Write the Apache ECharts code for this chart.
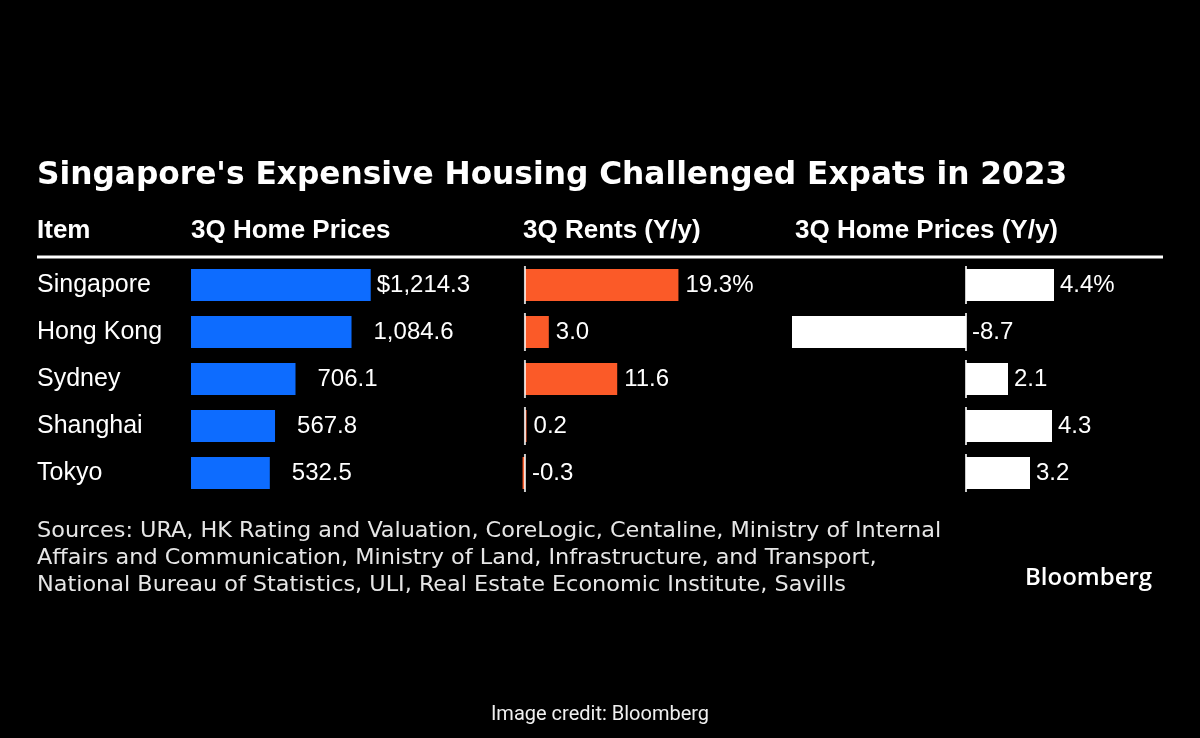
<!DOCTYPE html>
<html>
<head>
<meta charset="utf-8">
<script src="https://cdn.jsdelivr.net/npm/echarts@6/dist/echarts.min.js"></script>
<style>
  html, body { margin: 0; padding: 0; background: #000; }
  #chart { width: 1200px; height: 738px; }
</style>
</head>
<body>
<div id="chart"></div>
<script>
// ---- data ----
const cities = ['Singapore', 'Hong Kong', 'Sydney', 'Shanghai', 'Tokyo'];
const homePrices = [1214.3, 1084.6, 706.1, 567.8, 532.5];      // 3Q Home Prices
const rentsYoY = [19.3, 3.0, 11.6, 0.2, -0.3];                  // 3Q Rents (Y/y)
const homePricesYoY = [4.4, -8.7, 2.1, 4.3, 3.2];               // 3Q Home Prices (Y/y)
const columnHeaders = ['Item', '3Q Home Prices', '3Q Rents (Y/y)', '3Q Home Prices (Y/y)'];
const titleText = "Singapore's Expensive Housing Challenged Expats in 2023";
const sourceText = 'Sources: URA, HK Rating and Valuation, CoreLogic, Centaline, Ministry of Internal\nAffairs and Communication, Ministry of Land, Infrastructure, and Transport,\nNational Bureau of Statistics, ULI, Real Estate Economic Institute, Savills';

// ---- styling ----
const NUM_FONT = '"Liberation Sans", Arial, Helvetica, sans-serif';
const BLUE = '#0d6cff';
const ORANGE = '#fb5a28';
const WHITE = '#ffffff';
const TOP = 261.5, ROWH = 47, H = ROWH * cities.length;

function fmtThousands(v) {
  return v.toLocaleString('en-US', { minimumFractionDigits: 1, maximumFractionDigits: 1 });
}

function makeData(values, fmt, firstPrefix, firstSuffix, dist, prefixDist) {
  return values.map((v, i) => ({
    value: v,
    label: {
      formatter: (i === 0 ? firstPrefix : '') + fmt(v) + (i === 0 ? firstSuffix : ''),
      distance: (i === 0 && firstPrefix) ? prefixDist : dist
    }
  }));
}

const labelBase = {
  show: true, position: 'right', color: WHITE,
  fontFamily: NUM_FONT, fontSize: 24
};

const grids = [
  { left: 191, top: TOP, width: 185, height: H },
  { left: 517, top: TOP, width: 167, height: H },
  { left: 786, top: TOP, width: 280, height: H }
];
const xRanges = [[0, 1250], [-1, 20], [-9, 5]];

const xAxes = grids.map((g, i) => ({
  type: 'value', gridIndex: i, min: xRanges[i][0], max: xRanges[i][1],
  show: false, splitLine: { show: false }
}));
const yAxes = grids.map((g, i) => ({
  type: 'category', gridIndex: i, data: cities, inverse: true,
  axisLine: { show: false }, axisTick: { show: false },
  axisLabel: i === 0 ? {
    show: true, color: WHITE, fontFamily: NUM_FONT, fontSize: 25,
    align: 'left', margin: 154, padding: [0, 0, 14, 0]
  } : { show: false },
  splitLine: { show: false }
}));

const zeroLine = (gi) => ({
  type: 'scatter', xAxisIndex: gi, yAxisIndex: gi,
  symbol: 'rect', symbolSize: [2, 38], silent: true, z: 5,
  itemStyle: { color: WHITE },
  data: cities.map(c => [0, c])
});

const option = {
  backgroundColor: '#000',
  animation: false,
  title: {
    text: titleText, left: 37, top: 160, padding: 0,
    textStyle: { color: WHITE, fontFamily: '"DejaVu Sans", sans-serif', fontWeight: 'bold', fontSize: 31.25 }
  },
  grid: grids,
  xAxis: xAxes,
  yAxis: yAxes,
  series: [
    {
      type: 'bar', xAxisIndex: 0, yAxisIndex: 0, barWidth: 32,
      itemStyle: { color: BLUE }, label: labelBase,
      data: makeData(homePrices, fmtThousands, '$', '', 22, 6)
    },
    {
      type: 'bar', xAxisIndex: 1, yAxisIndex: 1, barWidth: 32,
      itemStyle: { color: ORANGE }, label: labelBase,
      data: makeData(rentsYoY, v => v.toFixed(1), '', '%', 7, 7)
    },
    zeroLine(1),
    {
      type: 'bar', xAxisIndex: 2, yAxisIndex: 2, barWidth: 32,
      itemStyle: { color: WHITE }, label: labelBase,
      data: makeData(homePricesYoY, v => v.toFixed(1), '', '%', 6, 6)
    },
    zeroLine(2)
  ],
  graphic: [
    ...[37, 191, 523, 795].map((x, i) => ({
      type: 'text', left: x, top: 218,
      style: { text: columnHeaders[i], fill: WHITE, font: 'bold 26px ' + NUM_FONT }
    })),
    {
      type: 'line', shape: { x1: 37, y1: 257, x2: 1163, y2: 257 },
      style: { stroke: WHITE, lineWidth: 3 }
    },
    {
      type: 'text', x: 37, y: 518, scaleX: 1.13,
      style: { text: sourceText, fill: '#e6e6e6', font: '22px "DejaVu Sans Condensed", "DejaVu Sans", sans-serif', lineHeight: 27 }
    },
    {
      type: 'text', left: 1025, top: 566,
      style: { text: 'Bloomberg', fill: WHITE, font: '600 24px "Open Sans", sans-serif' }
    },
    {
      type: 'text', left: 'center', top: 705,
      style: { text: 'Image credit: Bloomberg', fill: '#f0f0f0', font: '20px Roboto, sans-serif' }
    }
  ]
};

const chart = echarts.init(document.getElementById('chart'), null, { renderer: 'canvas' });
chart.setOption(option);
</script>
</body>
</html>
